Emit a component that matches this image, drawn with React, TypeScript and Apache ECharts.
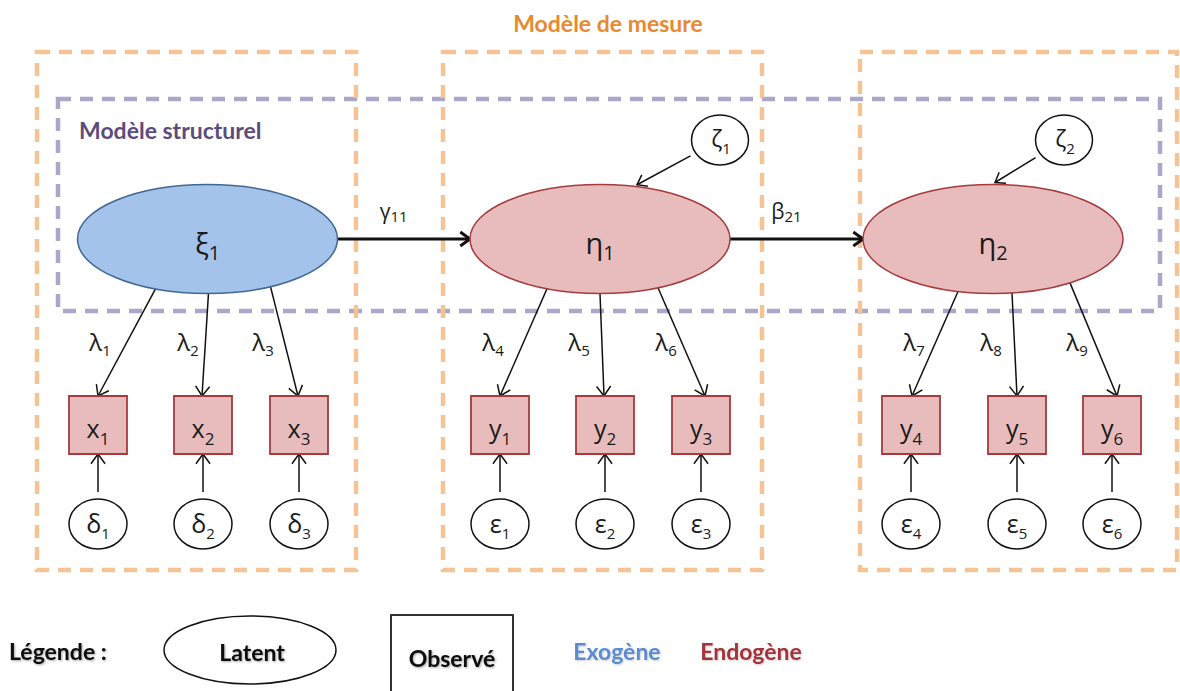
import React, { useEffect, useRef } from "react";
import * as echarts from "echarts";

// ---------- content ----------
const TITLE_MEASURE = "Modèle de mesure";
const TITLE_STRUCT = "Modèle structurel";

const latentSymbols = ["ξ", "η", "η"];
const latentSubs = ["1", "1", "2"];
const latentKinds = ["exo", "endo", "endo"];

const observedSymbols = ["x", "x", "x", "y", "y", "y", "y", "y", "y"];
const observedSubs = ["1", "2", "3", "1", "2", "3", "4", "5", "6"];

const errorSymbols = ["δ", "δ", "δ", "ε", "ε", "ε", "ε", "ε", "ε"];
const errorSubs = ["1", "2", "3", "1", "2", "3", "4", "5", "6"];

const loadingSymbols = ["λ", "λ", "λ", "λ", "λ", "λ", "λ", "λ", "λ"];
const loadingSubs = ["1", "2", "3", "4", "5", "6", "7", "8", "9"];
const loadingFrom = [0, 0, 0, 1, 1, 1, 2, 2, 2];

const structFrom = [0, 1];
const structTo = [1, 2];
const structSymbols = ["γ", "β"];
const structSubs = ["11", "21"];

const disturbanceSymbols = ["ζ", "ζ"];
const disturbanceSubs = ["1", "2"];
const disturbanceTo = [1, 2];

const legendTitle = "Légende :";
const legendLatent = "Latent";
const legendObserved = "Observé";
const legendExo = "Exogène";
const legendEndo = "Endogène";

// ---------- layout ----------
const LAT_X = [207.5, 600, 993];
const LAT_Y = 239;
const LAT_RX = 130;
const LAT_RY = 54.5;
const OBS_X = [98, 203, 299, 500, 605, 701, 911, 1017, 1112];
const OBS_Y = 425;
const OBS_SIZE = 58;
const ERR_Y = 524;
const ERR_RX = 29;
const ERR_RY = 25;
const LOAD_START_DX = [-52, 1, 63, -53, 0, 58, -35, 19, 77];
const LOAD_END_DX = [0, -1, -1, 0, -1, 4, 1, 0, 5];
const LAMBDA_DX = [2, -15, -36, -7, -26, -35, 3, -26, -35];
const LAMBDA_Y = 341;
const DIST_X = [720, 1064];
const DIST_Y = 140;
const DIST_RX = 28.5;
const DIST_RY = 25;
const DIST_END_DX = [37, 2];
const MEASURE_BOXES = [
  [37, 52, 319, 518],
  [443, 52, 319, 518],
  [860, 52, 317, 518],
];
const STRUCT_BOX = [58, 99, 1102, 212];

// ---------- styles ----------
const GREEK = "'Open Sans', 'Noto Sans', 'DejaVu Sans', sans-serif";
const LATIN = "'Open Sans', 'Noto Sans', sans-serif";
const BOLD = "Lato, 'Open Sans', sans-serif";
const ORANGE = "#f5c394";
const PURPLE = "#aaa7c9";
const EXO_FILL = "#a3c3ea";
const EXO_STROKE = "#3f6794";
const ENDO_FILL = "#e8bcbc";
const ENDO_STROKE = "#a53a3d";

function subText(
  x: number,
  y: number,
  sym: string,
  sub: string,
  size: number,
  subSize: number,
  offset: number,
  family: string,
  color = "#1a1a1a"
): any {
  return {
    type: "text",
    x,
    y,
    z: 10,
    style: {
      text: `{m|${sym}}{s|${sub}}`,
      align: "center",
      verticalAlign: "middle",
      rich: {
        m: {
          fontSize: size,
          lineHeight: offset * 2 + subSize,
          fontFamily: family,
          fill: color,
          verticalAlign: "middle",
        },
        s: {
          fontSize: subSize,
          lineHeight: subSize,
          fontFamily: family,
          fill: color,
          verticalAlign: "bottom",
        },
      },
    },
  };
}

function arrow(
  x1: number,
  y1: number,
  x2: number,
  y2: number,
  lw: number,
  head: number
): any[] {
  const ang = Math.atan2(y2 - y1, x2 - x1);
  const a = Math.PI / 5;
  const p1 = [x2 - head * Math.cos(ang - a), y2 - head * Math.sin(ang - a)];
  const p2 = [x2 - head * Math.cos(ang + a), y2 - head * Math.sin(ang + a)];
  return [
    {
      type: "line",
      z: 5,
      shape: { x1, y1, x2, y2 },
      style: { stroke: "#111", lineWidth: lw },
    },
    {
      type: "polyline",
      z: 5,
      shape: { points: [p1, [x2, y2], p2] },
      style: { stroke: "#111", lineWidth: lw, fill: null, lineJoin: "miter" },
    },
  ];
}

function buildGraphics(): any[] {
  const g: any[] = [];
  const shadow = {
    textShadowColor: "rgba(0,0,0,0.35)",
    textShadowBlur: 2,
    textShadowOffsetX: 1,
    textShadowOffsetY: 1,
  };

  // dashed frames
  MEASURE_BOXES.forEach(([x, y, w, h]) => {
    g.push({
      type: "rect",
      z: 2,
      shape: { x, y, width: w, height: h },
      style: { fill: "none", stroke: ORANGE, lineWidth: 4.5, lineDash: [13, 9] },
    });
  });
  g.push({
    type: "rect",
    z: 1,
    shape: { x: STRUCT_BOX[0], y: STRUCT_BOX[1], width: STRUCT_BOX[2], height: STRUCT_BOX[3] },
    style: { fill: "none", stroke: PURPLE, lineWidth: 4.5, lineDash: [13, 9] },
  });

  // titles
  g.push({
    type: "text",
    x: 608,
    y: 23,
    z: 10,
    style: {
      text: TITLE_MEASURE,
      align: "center",
      verticalAlign: "middle",
      fontFamily: BOLD,
      fontWeight: "bold",
      fontSize: 23,
      fill: "#e8892f",
    },
  });
  g.push({
    type: "text",
    x: 79,
    y: 130,
    z: 10,
    style: {
      text: TITLE_STRUCT,
      align: "left",
      verticalAlign: "middle",
      fontFamily: BOLD,
      fontWeight: "bold",
      fontSize: 23,
      fill: "#5c4c7c",
    },
  });

  // latent variables
  latentSymbols.forEach((s, i) => {
    const exo = latentKinds[i] === "exo";
    g.push({
      type: "ellipse",
      z: 6,
      shape: { cx: LAT_X[i], cy: LAT_Y, rx: LAT_RX, ry: LAT_RY },
      style: {
        fill: exo ? EXO_FILL : ENDO_FILL,
        stroke: exo ? EXO_STROKE : ENDO_STROKE,
        lineWidth: 1.5,
      },
    });
    g.push(subText(LAT_X[i], LAT_Y + 3, s, latentSubs[i], 29, 20, 10, GREEK));
  });

  // structural paths
  structFrom.forEach((f, k) => {
    const t = structTo[k];
    const x1 = LAT_X[f] + LAT_RX;
    const x2 = LAT_X[t] - LAT_RX;
    g.push(...arrow(x1, LAT_Y, x2, LAT_Y, 3, 12));
    g.push(
      subText((x1 + x2) / 2 - 10, LAT_Y - 28, structSymbols[k], structSubs[k], 21, 15, 4.5, GREEK)
    );
  });

  // disturbances
  disturbanceSymbols.forEach((s, k) => {
    const li = disturbanceTo[k];
    const cx = DIST_X[k];
    const cy = DIST_Y;
    const ex = LAT_X[li] + DIST_END_DX[k];
    const dxr = DIST_END_DX[k] / LAT_RX;
    const ey = LAT_Y - LAT_RY * Math.sqrt(1 - dxr * dxr) - 2;
    const ang = Math.atan2(ey - cy, ex - cx);
    const c = Math.cos(ang);
    const sn = Math.sin(ang);
    const r = 1 / Math.sqrt((c * c) / (DIST_RX * DIST_RX) + (sn * sn) / (DIST_RY * DIST_RY));
    const sx = cx + (r + 6) * c;
    const sy = cy + (r + 6) * sn;
    g.push(...arrow(sx, sy, ex, ey, 1.5, 11));
    g.push({
      type: "ellipse",
      z: 6,
      shape: { cx, cy, rx: DIST_RX, ry: DIST_RY },
      style: { fill: "#fff", stroke: "#111", lineWidth: 1.5 },
    });
    g.push(subText(cx + 1, cy - 2, s, disturbanceSubs[k], 23, 15, 9.5, GREEK));
  });

  // observed variables, loadings, errors
  observedSymbols.forEach((s, i) => {
    const ox = OBS_X[i];
    const li = loadingFrom[i];
    const sdx = LOAD_START_DX[i];
    const sxr = sdx / LAT_RX;
    const sx = LAT_X[li] + sdx;
    const sy = LAT_Y + LAT_RY * Math.sqrt(1 - sxr * sxr);
    const top = OBS_Y - OBS_SIZE / 2;
    const bottom = OBS_Y + OBS_SIZE / 2;
    g.push(...arrow(sx, sy, ox + LOAD_END_DX[i], top, 1.5, 12));
    g.push(
      subText(ox + LAMBDA_DX[i], LAMBDA_Y, loadingSymbols[i], loadingSubs[i], 24, 15, 9, GREEK)
    );
    g.push({
      type: "rect",
      z: 6,
      shape: { x: ox - OBS_SIZE / 2, y: top, width: OBS_SIZE, height: OBS_SIZE },
      style: { fill: ENDO_FILL, stroke: ENDO_STROKE, lineWidth: 1.8 },
    });
    g.push(subText(ox, OBS_Y + 2.5, s, observedSubs[i], 25, 17, 11, LATIN));
    // error
    g.push(...arrow(ox, ERR_Y - ERR_RY - 7, ox, bottom, 1.5, 12));
    g.push({
      type: "ellipse",
      z: 6,
      shape: { cx: ox, cy: ERR_Y, rx: ERR_RX, ry: ERR_RY },
      style: { fill: "#fff", stroke: "#111", lineWidth: 1.5 },
    });
    g.push(subText(ox, ERR_Y - 1.5, errorSymbols[i], errorSubs[i], 25, 15, 10, GREEK));
  });

  // legend
  const legendFont = {
    fontFamily: BOLD,
    fontWeight: "bold",
    fontSize: 23,
    verticalAlign: "middle",
  };
  g.push({
    type: "text",
    x: 9,
    y: 651,
    z: 10,
    style: { text: legendTitle, align: "left", fill: "#111", ...legendFont, ...shadow },
  });
  g.push({
    type: "ellipse",
    z: 6,
    shape: { cx: 250, cy: 650, rx: 86, ry: 34 },
    style: { fill: "#fff", stroke: "#111", lineWidth: 1.5 },
  });
  g.push({
    type: "text",
    x: 252,
    y: 652,
    z: 10,
    style: { text: legendLatent, align: "center", fill: "#111", ...legendFont, ...shadow },
  });
  g.push({
    type: "rect",
    z: 6,
    shape: { x: 391, y: 615, width: 122, height: 90 },
    style: { fill: "#fff", stroke: "#333", lineWidth: 2 },
  });
  g.push({
    type: "text",
    x: 452,
    y: 658,
    z: 10,
    style: { text: legendObserved, align: "center", fill: "#111", ...legendFont, ...shadow },
  });
  g.push({
    type: "text",
    x: 617,
    y: 651,
    z: 10,
    style: {
      text: legendExo,
      align: "center",
      fill: "#5b8bcf",
      ...legendFont,
      textShadowColor: "rgba(0,0,0,0.2)",
      textShadowBlur: 2,
      textShadowOffsetX: 1,
      textShadowOffsetY: 1,
    },
  });
  g.push({
    type: "text",
    x: 751,
    y: 651,
    z: 10,
    style: {
      text: legendEndo,
      align: "center",
      fill: "#a2343a",
      ...legendFont,
      textShadowColor: "rgba(0,0,0,0.2)",
      textShadowBlur: 2,
      textShadowOffsetX: 1,
      textShadowOffsetY: 1,
    },
  });
  return g;
}

export default function App() {
  const ref = useRef<HTMLDivElement>(null);
  useEffect(() => {
    if (!ref.current) return;
    const chart = echarts.init(ref.current, undefined, { renderer: "svg" });
    chart.setOption({
      animation: false,
      backgroundColor: "#ffffff",
      graphic: { elements: buildGraphics() },
    });
    return () => chart.dispose();
  }, []);
  return (
    <div
      ref={ref}
      style={{ position: "absolute", left: 0, top: 0, width: 1180, height: 691 }}
    />
  );
}
